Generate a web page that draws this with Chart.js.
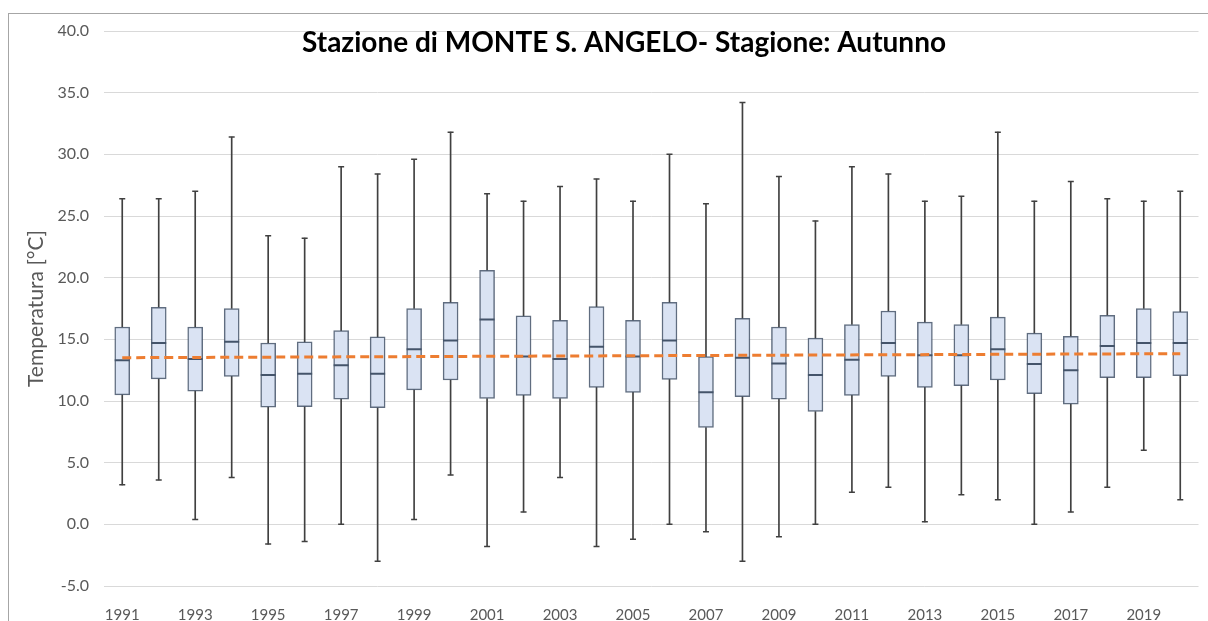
<!DOCTYPE html>
<html>
<head>
<meta charset="utf-8">
<script src="https://cdn.jsdelivr.net/npm/chart.js@4/dist/chart.umd.min.js"></script>
<style>
  body { margin: 0; background: #fff; }
  #wrap { position: relative; width: 1208px; height: 621px; overflow: hidden; }
  #frame { position: absolute; left: 8px; top: 13px; width: 1400px; height: 800px;
           border-left: 1px solid #a6a6a6; border-top: 1px solid #a6a6a6; }
  canvas { position: absolute; left: 0; top: 0; }
</style>
</head>
<body>
<div id="wrap">
  <div id="frame"></div>
  <canvas id="boxChart" width="1208" height="621"></canvas>
</div>
<script>
var years = ["1991","1992","1993","1994","1995","1996","1997","1998","1999","2000",
             "2001","2002","2003","2004","2005","2006","2007","2008","2009","2010",
             "2011","2012","2013","2014","2015","2016","2017","2018","2019","2020"];

var maxVals = [26.4, 26.4, 27.0, 31.4, 23.4, 23.2, 29.0, 28.4, 29.6, 31.8,
               26.8, 26.2, 27.4, 28.0, 26.2, 30.0, 26.0, 34.2, 28.2, 24.6,
               29.0, 28.4, 26.2, 26.6, 31.8, 26.2, 27.8, 26.4, 26.2, 27.0];
var q3Vals  = [16.0, 17.6, 16.0, 17.5, 14.7, 14.8, 15.7, 15.2, 17.5, 18.0,
               20.6, 16.9, 16.55, 17.65, 16.55, 18.0, 13.6, 16.7, 16.0, 15.1,
               16.2, 17.3, 16.4, 16.2, 16.8, 15.5, 15.25, 16.95, 17.5, 17.25];
var medVals = [13.3, 14.7, 13.4, 14.8, 12.1, 12.2, 12.9, 12.2, 14.2, 14.9,
               16.6, 13.6, 13.4, 14.4, 13.6, 14.9, 10.7, 13.5, 13.05, 12.1,
               13.35, 14.7, 13.7, 13.7, 14.2, 13.0, 12.5, 14.45, 14.7, 14.7];
var q1Vals  = [10.5, 11.8, 10.8, 12.0, 9.5, 9.55, 10.15, 9.45, 10.9, 11.7,
               10.2, 10.45, 10.2, 11.1, 10.7, 11.75, 7.85, 10.35, 10.15, 9.15,
               10.45, 12.0, 11.1, 11.25, 11.7, 10.6, 9.75, 11.9, 11.9, 12.05];
var minVals = [3.2, 3.6, 0.4, 3.8, -1.6, -1.4, 0.0, -3.0, 0.4, 4.0,
               -1.8, 1.0, 3.8, -1.8, -1.2, 0.0, -0.6, -3.0, -1.0, 0.0,
               2.6, 3.0, 0.2, 2.4, 2.0, 0.0, 1.0, 3.0, 6.0, 2.0];

// linear trend of the medians, first and last year
var trendYears = ["1991", "2020"];
var trendVals = [13.51, 13.84];

var yTicks = [-5, 0, 5, 10, 15, 20, 25, 30, 35, 40];

var chartTitle = "Stazione di MONTE S. ANGELO- Stagione: Autunno";

var lowWhisk = years.map(function (y, i) { return [minVals[i], q1Vals[i]]; });
var highWhisk = years.map(function (y, i) { return [q3Vals[i], maxVals[i]]; });
var boxes = years.map(function (y, i) { return [q1Vals[i], q3Vals[i]]; });
var caps = [];
years.forEach(function (y, i) {
    caps.push({x: y, y: minVals[i]});
    caps.push({x: y, y: maxVals[i]});
});
var medians = years.map(function (y, i) { return {x: y, y: medVals[i]}; });
var trend = trendYears.map(function (y, i) { return {x: y, y: trendVals[i]}; });

var titlePlugin = {
    id: 'overlayTitle',
    afterDraw: function (chart) {
        var ctx = chart.ctx;
        ctx.save();
        ctx.font = 'bold 28px Lato';
        ctx.fillStyle = '#000';
        ctx.textAlign = 'center';
        ctx.textBaseline = 'middle';
        ctx.fillText(chartTitle, 624, 43);
        ctx.restore();
    }
};

var whiskColor = '#404040';

new Chart(document.getElementById('boxChart'), {
    type: 'bar',
    data: {
        labels: years,
        datasets: [
            {
                type: 'line',
                data: trend,
                borderColor: '#ED7D31',
                borderWidth: 3,
                borderDash: [9, 5],
                pointRadius: 0,
                fill: false,
                order: 0
            },
            {
                type: 'line',
                data: medians,
                showLine: false,
                pointStyle: 'line',
                pointRadius: 7.5,
                borderColor: '#44546A',
                borderWidth: 2,
                order: 1
            },
            {
                data: boxes,
                backgroundColor: '#DAE3F3',
                borderColor: 'rgba(68, 84, 106, 0.85)',
                borderWidth: 1.5,
                borderSkipped: false,
                barThickness: 15,
                grouped: false,
                order: 2
            },
            {
                data: lowWhisk,
                backgroundColor: whiskColor,
                barThickness: 1,
                grouped: false,
                order: 3
            },
            {
                data: highWhisk,
                backgroundColor: whiskColor,
                barThickness: 1,
                grouped: false,
                order: 3
            },
            {
                type: 'line',
                data: caps,
                showLine: false,
                pointStyle: 'line',
                pointRadius: 3,
                borderColor: whiskColor,
                borderWidth: 1.5,
                order: 3
            }
        ]
    },
    options: {
        responsive: false,
        animation: false,
        layout: { padding: { top: 31, right: 5, bottom: 0, left: 0 } },
        plugins: {
            legend: { display: false },
            tooltip: { enabled: false }
        },
        scales: {
            x: {
                offset: true,
                grid: { display: false },
                border: { display: false },
                ticks: {
                    autoSkip: false,
                    maxRotation: 0,
                    padding: 12,
                    color: '#595959',
                    font: { family: 'Lato', size: 15 },
                    callback: function (val, idx) {
                        return idx % 2 === 0 ? years[idx] : '';
                    }
                },
                afterFit: function (scale) { scale.height = 35; }
            },
            y: {
                min: -5,
                max: 40,
                afterBuildTicks: function (scale) {
                    scale.ticks = yTicks.map(function (v) { return {value: v}; });
                },
                grid: { color: '#D9D9D9', lineWidth: 1, drawTicks: false },
                border: { display: false },
                ticks: {
                    padding: 15,
                    color: '#595959',
                    font: { family: 'Lato', size: 16 },
                    callback: function (v) { return Number(v).toFixed(1); }
                },
                title: {
                    display: true,
                    text: 'Temperatura [°C]',
                    color: '#595959',
                    font: { family: 'Lato', size: 21 },
                    padding: { top: 24, bottom: 0 }
                },
                afterFit: function (scale) { scale.width = 104; }
            }
        }
    },
    plugins: [titlePlugin]
});
</script>
</body>
</html>
